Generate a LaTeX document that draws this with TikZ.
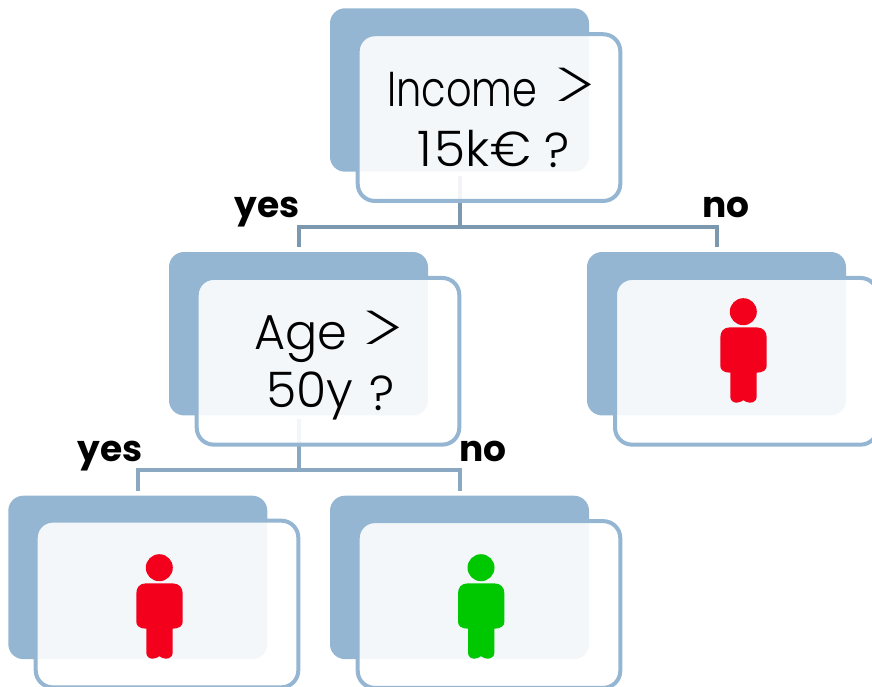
\documentclass[tikz,border=0pt]{standalone}
\usepackage{fontspec}
\setmainfont{Poppins}
\newfontfamily\qfont{Poppins Light}
\newfontfamily\thinfont{Poppins ExtraLight}
\definecolor{panel}{HTML}{94B6D2}
\definecolor{linkA}{HTML}{7C98AE}
\definecolor{linkB}{HTML}{8BA8C3}
\definecolor{redp}{HTML}{F2001C}
\definecolor{greenp}{HTML}{00C800}
\newcommand{\fitw}[2]{\resizebox{#1pt}{\height}{#2}}
\newcommand{\bigless}{\scalebox{2.1}[1.45]{\thinfont >}}
\tikzset{
  backbox/.style={rectangle,fill=panel,rounded corners=15pt,minimum width=259pt,minimum height=163.4pt,inner sep=0pt,outer sep=0pt},
  frontbox/.style={rectangle,draw=panel,line width=4pt,fill=white,fill opacity=.9,draw opacity=1,rounded corners=17pt,minimum width=262.6pt,minimum height=166.7pt,inner sep=0pt,outer sep=0pt},
  link/.style={line width=4pt,shorten <=4pt,shorten >=5pt},
  qtext/.style={anchor=base west,inner sep=0pt,font=\qfont\fontsize{49}{49}\selectfont,text=black},
  ans/.style={anchor=base,inner sep=0pt,font=\bfseries\fontsize{36}{36}\selectfont,text=black},
  person/.pic={
    \fill[pic actions] (0,0) circle (13.5);
    \fill[pic actions] (-13,15.6) -- (13,15.6) .. controls (20,15.6) and (23.4,20) .. (23.4,26)
      -- (23.4,54) .. controls (23.4,58) and (20,61) .. (13.4,61)
      -- (13.4,85) .. controls (13.4,89) and (10,91) .. (6.5,91) .. controls (3.5,91) and (2,89.5) .. (0,88.5)
      .. controls (-2,89.5) and (-3.5,91) .. (-6.5,91) .. controls (-10,91) and (-13,89) .. (-13,85)
      -- (-13,61) .. controls (-20,61) and (-23,58) .. (-23,54)
      -- (-23,26) .. controls (-23,20) and (-20,15.6) .. (-13,15.6) -- cycle;
  }
}
\begin{document}
\begin{tikzpicture}[x=1pt,y=-1pt]
\useasboundingbox (0,0) rectangle (872,687);
\node[backbox] (b1) at (459.5,90) {};
\node[backbox] (b2) at (298.5,333.7) {};
\node[backbox] (b3) at (716.5,333.7) {};
\node[backbox] (b4) at (137.8,577.4) {};
\node[backbox] (b5) at (459.5,577.4) {};
\coordinate (j1) at (459.5,227);
\coordinate (j2) at (298.5,469.5);
\draw[linkA,link,shorten >=0pt] (b1.south) -- (j1);
\draw[linkA,link,shorten <=0pt] (j1) -| (b2.north);
\draw[linkA,link,shorten <=0pt] (j1) -| (b3.north);
\draw[linkB,link,shorten >=0pt] (b2.south) -- (j2);
\draw[linkB,link,shorten <=0pt] (j2) -| (b4.north);
\draw[linkB,link,shorten <=0pt] (j2) -| (b5.north);
\node[frontbox] (f1) at (489,117.6) {};
\node[frontbox] (f2) at (328,361.3) {};
\node[frontbox] (f3) at (746.3,361.3) {};
\node[frontbox] (f4) at (167,604) {};
\node[frontbox] (f5) at (489,604.5) {};
\node[qtext] (t1a) at (387,106.7) {\fitw{150}{Income}\hspace{15pt}\raisebox{-5pt}{\bigless}};
\node[qtext] (t1b) at (417,166.7) {\fitw{114}{1\kern3pt 5k€}\hspace{13pt}\raisebox{-1pt}{?}};
\node[qtext] (t2a) at (254,349.7) {\fitw{93}{Age}\hspace{13pt}\raisebox{-5pt}{\bigless}};
\node[qtext] (t2b) at (266,407) {\fitw{87}{50y}\hspace{16pt}\raisebox{-3pt}{?}};
\node[ans] (l1) at (267.5,217) {yes};
\node[ans] (l2) at (726,217) {no};
\node[ans] (l3) at (110,461) {yes};
\node[ans] (l4) at (483,461) {no};
\pic[fill=redp] (p3) at (743.3,311.7) {person};
\pic[fill=redp] (p4) at (159.3,567.7) {person};
\pic[fill=greenp] (p5) at (481,567.7) {person};
\end{tikzpicture}
\end{document}
